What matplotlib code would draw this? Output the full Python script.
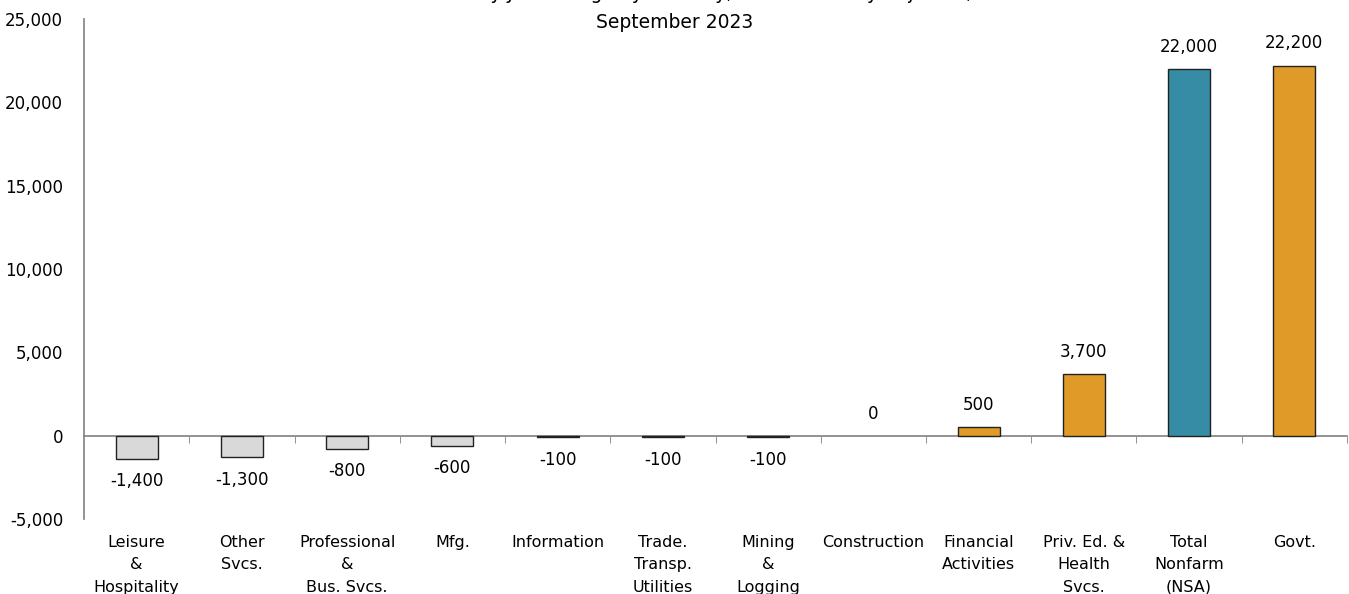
import matplotlib
matplotlib.use("Agg")
import matplotlib.pyplot as plt
import numpy as np
from matplotlib.ticker import FuncFormatter, FixedLocator

# monthly job change by industry
industries = ["Leisure\n&\nHospitality", "Other\nSvcs.", "Professional\n&\nBus. Svcs.", "Mfg.",
              "Information", "Trade.\nTransp.\nUtilities", "Mining\n&\nLogging", "Construction",
              "Financial\nActivities", "Priv. Ed. &\nHealth\nSvcs.", "Total\nNonfarm\n(NSA)", "Govt."]
job_change = [-1400, -1300, -800, -600, -100, -100, -100, 0, 500, 3700, 22000, 22200]
total_label = "Total\nNonfarm\n(NSA)"

GRAY = "#d9d9d9"
ORANGE = "#e09a28"
TEAL = "#358ca4"

plt.rcParams['font.family'] = ['DejaVu Sans']

fig = plt.figure(figsize=(13.49, 5.94), dpi=100)
ax = fig.add_axes([0.0623, 0.126, 0.9362, 0.842])

x = np.arange(len(industries))
colors = []
for name, val in zip(industries, job_change):
    if name == total_label:
        colors.append(TEAL)
    elif val < 0:
        colors.append(GRAY)
    else:
        colors.append(ORANGE)

# zero-height bars get no outline
edges = ["#222222" if v != 0 else "none" for v in job_change]
ax.bar(x, job_change, width=0.4, color=colors, edgecolor=edges, linewidth=1.0, zorder=3)

for xi, val in zip(x, job_change):
    off = 16 if val >= 0 else -16
    ax.annotate("{:,}".format(val), (xi, val), xytext=(0, off), textcoords="offset points",
                ha="center", va="center", fontsize=12)

ax.set_xlim(-0.5, len(industries) - 0.5)
ax.set_ylim(-5000, 25000)
ax.set_yticks(np.arange(-5000, 25001, 5000))
ax.yaxis.set_major_formatter(FuncFormatter(lambda v, p: "{:,}".format(int(v))))
ax.tick_params(axis="y", length=0, pad=15, labelsize=12)

# category labels sit below the axes, boundary ticks on the zero line
ax.set_xticks([])
ax.xaxis.set_minor_locator(FixedLocator(np.arange(0.5, len(industries) - 0.4, 1.0)))
ax.tick_params(axis="x", which="minor", length=5, direction="out", color="#808080")
ax.spines["bottom"].set_position(("data", 0))
ax.spines["bottom"].set_color("#808080")
ax.spines["left"].set_color("#808080")
ax.spines["left"].set_linewidth(1.2)
ax.spines["bottom"].set_linewidth(1.2)
ax.spines["top"].set_visible(False)
ax.spines["right"].set_visible(False)

for xi, name in zip(x, industries):
    ax.text(xi, -5950, name, ha="center", va="top", fontsize=11.5, linespacing=1.62)

fig.text(0.5, 0.946, "Utah Monthly Job Change by Industry, Not Seasonally Adjusted,\nSeptember 2023",
         ha="center", va="bottom", fontsize=13.5, linespacing=1.65)

fig.savefig("out.png", dpi=100)
